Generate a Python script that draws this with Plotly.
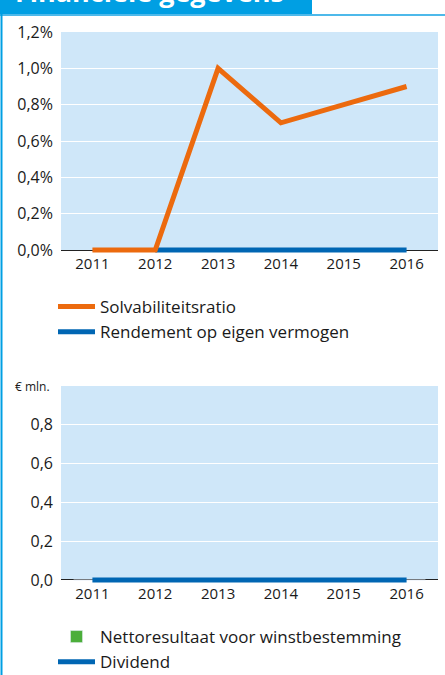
import plotly.graph_objects as go

years = ["2011", "2012", "2013", "2014", "2015", "2016"]
solvabiliteit = [0.0, 0.0, 1.0, 0.7, 0.8, 0.9]
rendement = [None, 0.0, 0.0, 0.0, 0.0, 0.0]
netto = [0.0, 0.0, 0.0, 0.0, 0.0, 0.0]
dividend = [0.0, 0.0, 0.0, 0.0, 0.0, 0.0]

pct_vals = [0.0, 0.2, 0.4, 0.6, 0.8, 1.0, 1.2]
pct_text = ["0,0%", "0,2%", "0,4%", "0,6%", "0,8%", "1,0%", "1,2%"]
mln_vals = [0.0, 0.2, 0.4, 0.6, 0.8]
mln_text = ["0,0", "0,2", "0,4", "0,6", "0,8"]

W, H = 445, 675
FONT = "Open Sans"
TXT = "#1a1a1a"
ORANGE = "#EC6A0E"
BLUE = "#0066B3"
GREEN = "#4BAE3A"
BG = "#CFE7F9"

def py(px):
    return 1 - px / H

def pxx(px):
    return px / W

fig = go.Figure()

fig.add_trace(go.Scatter(x=years, y=rendement, mode="lines", name="Rendement op eigen vermogen",
                         line=dict(color=BLUE, width=5), xaxis="x", yaxis="y",
                         legend="legend", legendrank=2))
fig.add_trace(go.Scatter(x=years, y=solvabiliteit, mode="lines", name="Solvabiliteitsratio",
                         line=dict(color=ORANGE, width=5), xaxis="x", yaxis="y",
                         legend="legend", legendrank=1))
fig.add_trace(go.Bar(x=years, y=netto, name="Nettoresultaat voor winstbestemming",
                     marker=dict(color=GREEN), xaxis="x2", yaxis="y2", legend="legend2",
                     legendrank=1))
fig.add_trace(go.Scatter(x=years, y=dividend, mode="lines", name="Dividend",
                         line=dict(color=BLUE, width=5), xaxis="x2", yaxis="y2",
                         legend="legend2", legendrank=2))

xdom = [pxx(61), pxx(438)]
xtickfont = dict(family=FONT, size=15, color=TXT)
ytickfont = dict(family=FONT, size=16, color=TXT)
axis_common = dict(
    type="category", range=[-0.5, 5.5], showgrid=False, showline=False,
    ticks="", zeroline=False, tickfont=xtickfont, ticklabelstandoff=0, automargin=False,
)
ycommon = dict(showgrid=True, gridcolor="white", gridwidth=1.2, ticks="",
               zeroline=True, zerolinecolor="#222222", zerolinewidth=1,
               tickfont=ytickfont, ticklabelstandoff=7, automargin=False)
legfont = dict(family=FONT, size=17, color=TXT)
fig.update_layout(
    width=W, height=H, margin=dict(l=0, r=0, t=0, b=0, pad=0, autoexpand=False),
    paper_bgcolor="white", plot_bgcolor="white",
    font=dict(family=FONT, color=TXT),
    xaxis=dict(domain=xdom, anchor="y", **axis_common),
    yaxis=dict(domain=[py(253), py(32)], anchor="x", range=[-0.0165, 1.2],
               tickvals=pct_vals, ticktext=pct_text, **ycommon),
    xaxis2=dict(domain=xdom, anchor="y2", **axis_common),
    yaxis2=dict(domain=[py(583), py(386)], anchor="x2", range=[-0.0155, 1.0],
                tickvals=mln_vals, ticktext=mln_text, **ycommon),
    legend=dict(x=pxx(53), y=py(289), xanchor="left", yanchor="top",
                xref="container", yref="container",
                bgcolor="rgba(0,0,0,0)", font=legfont, itemwidth=37, tracegroupgap=0),
    legend2=dict(x=pxx(53), y=py(619), xanchor="left", yanchor="top",
                 xref="container", yref="container",
                 bgcolor="rgba(0,0,0,0)", font=legfont, itemwidth=37, tracegroupgap=0),
    showlegend=True,
    bargap=0.4,
)

# plot backgrounds (ending at the zero axis)
fig.add_shape(type="rect", xref="x domain", yref="y", x0=0, x1=1, y0=0, y1=1.2,
              fillcolor=BG, line_width=0, layer="below")
fig.add_shape(type="rect", xref="x2 domain", yref="y2", x0=0, x1=1, y0=0, y1=1.0,
              fillcolor=BG, line_width=0, layer="below")

# banner and frame
fig.add_shape(type="rect", xref="paper", yref="paper", x0=0, x1=pxx(312), y0=py(14), y1=1,
              fillcolor="#009FE3", line_width=0, layer="below")
fig.add_shape(type="line", xref="paper", yref="paper", x0=0, x1=1, y0=py(15), y1=py(15),
              line=dict(color="#4DB9EA", width=2))
fig.add_shape(type="line", xref="paper", yref="paper", x0=pxx(1.5), x1=pxx(1.5), y0=0, y1=py(14),
              line=dict(color="#009FE3", width=2))
fig.add_annotation(text="<b>Financiële gegevens</b>", xref="paper", yref="paper",
                   x=pxx(13), y=py(11.5), xanchor="left", yanchor="bottom", showarrow=False,
                   font=dict(family=FONT, size=27, color="white"))
fig.add_annotation(text="€ mln.", xref="paper", yref="y2", x=pxx(52), y=1.0,
                   xanchor="right", yanchor="middle", showarrow=False,
                   font=dict(family=FONT, size=12, color=TXT))

fig.write_html("out.html", config={"displayModeBar": False},
               post_script="document.body.style.margin='0px';")
